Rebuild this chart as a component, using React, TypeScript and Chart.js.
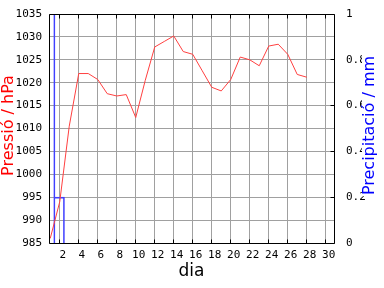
import React, { useEffect, useRef } from "react";
import { Chart, registerables } from "chart.js";

Chart.register(...registerables);

// ---- data ----
const days = [1, 2, 3, 4, 5, 6, 7, 8, 9, 10, 11, 12, 13, 14, 15, 16, 17, 18, 19, 20, 21, 22, 23, 24, 25, 26, 27, 28];
const pressure = [
  986, 994, 1010.5, 1022, 1022, 1020.7, 1017.6, 1017.1, 1017.4, 1012.4,
  1020.5, 1027.8, 1029, 1030.2, 1026.8, 1026.2, 1022.6, 1019, 1018.2, 1020.7,
  1025.6, 1025, 1023.7, 1028, 1028.4, 1026.2, 1021.8, 1021.2,
];
const precipDays = [1, 2];
const precipitation = [1.5, 0.2];

const xTicks = [2, 4, 6, 8, 10, 12, 14, 16, 18, 20, 22, 24, 26, 28, 30];
const pressureTicks = [985, 990, 995, 1000, 1005, 1010, 1015, 1020, 1025, 1030, 1035];
const precipTicks = [0, 0.2, 0.4, 0.6, 0.8, 1];

const xTitle = "dia";
const leftTitle = "Pressió / hPa";
const rightTitle = "Precipitació / mm";

const tickFont = { family: "'DejaVu Sans Mono', monospace", size: 11 };
const titleFontCss = "16px 'DejaVu Sans', sans-serif";
const GRID = "#a0a0a0";

const framePlugin = {
  id: "frame",
  afterDatasetsDraw(chart: any) {
    const { ctx, chartArea: a, scales } = chart;
    const L = Math.round(a.left) + 0.5;
    const R = Math.round(a.right) + 0.5;
    const T = Math.round(a.top) + 0.5;
    const B = Math.round(a.bottom) + 0.5;
    ctx.save();
    ctx.strokeStyle = "#000";
    ctx.lineWidth = 1;
    ctx.beginPath();
    ctx.moveTo(L, T);
    ctx.lineTo(R, T);
    ctx.lineTo(R, B);
    ctx.lineTo(L, B);
    ctx.closePath();
    for (const t of scales.x.ticks) {
      const px = Math.round(scales.x.getPixelForValue(t.value) - 0.5) + 0.5;
      ctx.moveTo(px, T);
      ctx.lineTo(px, T + 4);
      ctx.moveTo(px, B);
      ctx.lineTo(px, B - 4);
    }
    for (const t of scales.y1.ticks) {
      const py = Math.round(scales.y1.getPixelForValue(t.value) - 0.5) + 0.5;
      ctx.moveTo(R, py);
      ctx.lineTo(R - 4, py);
    }
    ctx.stroke();
    ctx.restore();
  },
  afterDraw(chart: any) {
    const { ctx, chartArea: a, width } = chart;
    const cy = (a.top + a.bottom) / 2 - 3;
    const draw = (text: string, x: number, color: string, bg: boolean) => {
      ctx.save();
      ctx.translate(x, cy);
      ctx.rotate(-Math.PI / 2);
      ctx.font = titleFontCss;
      ctx.textAlign = "center";
      ctx.textBaseline = "middle";
      if (bg) {
        const w = ctx.measureText(text).width;
        ctx.fillStyle = "#fff";
        ctx.fillRect(-w / 2 - 1, -8, w + 2, 17);
      }
      ctx.fillStyle = color;
      ctx.fillText(text, 0, 0);
      ctx.restore();
    };
    draw(leftTitle, 8.5, "#ff0000", false);
    draw(rightTitle, width - 14, "#0000ff", true);
  },
};

const noPad = (s: any) => {
  s.paddingTop = 0;
  s.paddingBottom = 0;
  s.paddingLeft = 0;
  s.paddingRight = 0;
};

export default function App() {
  const ref = useRef<HTMLCanvasElement>(null);
  useEffect(() => {
    document.body.style.margin = "0";
    const chart = new Chart(ref.current as HTMLCanvasElement, {
      type: "line",
      data: {
        datasets: [
          {
            type: "line",
            label: "Pressió",
            data: days.map((d, i) => ({ x: d, y: pressure[i] })),
            borderColor: "#ff4040",
            borderWidth: 1,
            pointRadius: 0,
            tension: 0,
            yAxisID: "y",
            clip: 0,
          } as any,
          {
            type: "bar",
            label: "Precipitació",
            data: precipDays.map((d, i) => ({ x: d, y: precipitation[i] })),
            backgroundColor: "rgba(0,0,0,0)",
            borderColor: "#4040ff",
            borderWidth: { left: 0, right: 1, top: 1, bottom: 0 },
            borderSkipped: false,
            barPercentage: 1,
            categoryPercentage: 1,
            yAxisID: "y1",
            clip: 0,
          } as any,
        ],
      },
      options: {
        animation: false,
        responsive: false,
        devicePixelRatio: 1,
        layout: { padding: { top: 14, left: 0, right: 0, bottom: 0 } },
        plugins: { legend: { display: false }, tooltip: { enabled: false } },
        scales: {
          x: {
            type: "linear",
            min: 0.87,
            max: 30.87,
            offset: false,
            afterBuildTicks: (s: any) => {
              s.ticks = xTicks.map((v) => ({ value: v }));
            },
            afterFit: (s: any) => {
              s.height = 45;
              noPad(s);
            },
            grid: { color: GRID, drawTicks: false, offset: false },
            border: { display: false },
            ticks: {
              font: tickFont,
              color: "#000",
              padding: 6,
              labelOffset: 3,
              maxRotation: 0,
              autoSkip: false,
              callback: (v: any) => String(v),
            },
            title: {
              display: true,
              text: xTitle,
              color: "#000",
              font: { family: "'DejaVu Sans', sans-serif", size: 17 },
              padding: { top: 0, bottom: 6 },
            },
          },
          y: {
            type: "linear",
            position: "left",
            min: 985,
            max: 1035,
            afterBuildTicks: (s: any) => {
              s.ticks = pressureTicks.map((v) => ({ value: v }));
            },
            afterFit: (s: any) => {
              s.width = 49;
              noPad(s);
            },
            grid: { color: GRID, drawTicks: false },
            border: { display: false },
            ticks: {
              font: tickFont,
              color: "#000",
              padding: 7,
              callback: (v: any) => String(v),
            },
          },
          y1: {
            type: "linear",
            position: "right",
            min: 0,
            max: 1,
            beginAtZero: false,
            afterBuildTicks: (s: any) => {
              s.ticks = precipTicks.map((v) => ({ value: v }));
            },
            afterFit: (s: any) => {
              s.width = 50;
              noPad(s);
            },
            grid: { display: false, drawTicks: false },
            border: { display: false },
            ticks: {
              font: tickFont,
              color: "#000",
              padding: 12,
              callback: (v: any) => String(v),
            },
          },
        },
      } as any,
      plugins: [framePlugin],
    });
    return () => chart.destroy();
  }, []);
  return (
    <div style={{ width: 384, height: 288 }}>
      <canvas ref={ref} width={384} height={288} style={{ display: "block", width: 384, height: 288 }} />
    </div>
  );
}
